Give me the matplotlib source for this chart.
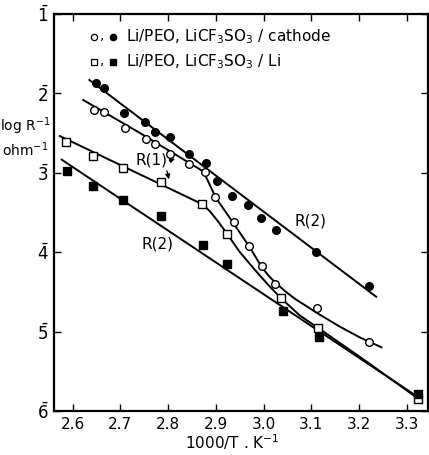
import matplotlib
matplotlib.use("Agg")
import matplotlib.pyplot as plt
import numpy as np

plt.rcParams['font.family'] = ['DejaVu Sans']
plt.rcParams['mathtext.fontset'] = 'dejavusans'

# ---- data (x = 1000/T, y = log R^-1) ----
cath_filled_x = [2.648, 2.666, 2.708, 2.752, 2.772, 2.804, 2.843, 2.880, 2.902, 2.934, 2.968, 2.995, 3.026, 3.110, 3.221]
cath_filled_y = [-1.873, -1.936, -2.251, -2.356, -2.490, -2.549, -2.763, -2.877, -3.100, -3.288, -3.402, -3.566, -3.721, -3.994, -4.426]

cath_open_x = [2.645, 2.666, 2.709, 2.753, 2.773, 2.804, 2.843, 2.877, 2.899, 2.937, 2.969, 2.996, 3.025, 3.111, 3.221]
cath_open_y = [-2.209, -2.238, -2.436, -2.580, -2.631, -2.757, -2.892, -2.992, -3.309, -3.616, -3.925, -4.178, -4.401, -4.703, -5.127]

li_open_x = [2.586, 2.643, 2.706, 2.784, 2.870, 2.923, 3.036, 3.114, 3.323]
li_open_y = [-2.616, -2.785, -2.943, -3.120, -3.393, -3.767, -4.581, -4.958, -5.849]

li_filled_x = [2.587, 2.642, 2.706, 2.786, 2.874, 2.924, 3.040, 3.116, 3.323]
li_filled_y = [-2.974, -3.170, -3.343, -3.540, -3.909, -4.152, -4.737, -5.072, -5.786]

# drawn guide curves
cath_filled_line_x = [2.635, 3.236]
cath_filled_line_y = [-1.831, -4.561]

cath_open_curve_x = [2.622, 2.741, 2.874, 2.900, 2.936, 2.971, 2.996, 3.011, 3.028, 3.047, 3.068, 3.091, 3.112, 3.160, 3.202, 3.247]
cath_open_curve_y = [-2.083, -2.499, -2.984, -3.314, -3.628, -3.938, -4.186, -4.300, -4.400, -4.501, -4.596, -4.684, -4.766, -4.938, -5.074, -5.198]

li_open_curve_x = [2.573, 2.872, 2.887, 2.904, 2.923, 2.950, 2.982, 3.009, 3.036, 3.076, 3.116, 3.160, 3.223, 3.325]
li_open_curve_y = [-2.537, -3.397, -3.481, -3.607, -3.764, -3.997, -4.224, -4.407, -4.577, -4.797, -4.961, -5.144, -5.408, -5.849]

li_filled_line_x = [2.577, 3.325]
li_filled_line_y = [-2.835, -5.830]

xticks = [2.6, 2.7, 2.8, 2.9, 3.0, 3.1, 3.2, 3.3]
xticklabels = ['2.6', '2.7', '2.8', '2.9', '3.0', '3.1', '3.2', '3.3']
yticks = [-1, -2, -3, -4, -5, -6]
yticklabels = [r'$\bar{1}$', r'$\bar{2}$', r'$\bar{3}$', r'$\bar{4}$', r'$\bar{5}$', r'$\bar{6}$']

fig = plt.figure(figsize=(4.29, 4.55), dpi=100)
ax = fig.add_axes([54/429, 1 - 411/455, 374/429, 397/455])

lw = 1.4
ax.plot(cath_filled_line_x, cath_filled_line_y, color='black', lw=lw)
ax.plot(cath_open_curve_x, cath_open_curve_y, color='black', lw=lw)
ax.plot(li_open_curve_x, li_open_curve_y, color='black', lw=lw)
ax.plot(li_filled_line_x, li_filled_line_y, color='black', lw=lw)

ms = 5.5
ax.plot(cath_filled_x, cath_filled_y, 'o', color='black', ms=ms, ls='none')
ax.plot(cath_open_x, cath_open_y, 'o', mfc='white', mec='black', mew=1.0, ms=ms, ls='none')
ax.plot(li_open_x, li_open_y, 's', mfc='white', mec='black', mew=1.0, ms=ms, ls='none')
ax.plot(li_filled_x, li_filled_y, 's', color='black', ms=ms, ls='none')

# annotations
ax.text(2.766, -2.839, 'R(1)', fontsize=11, ha='center', va='center')
ax.annotate('', xy=(2.820, -2.814), xytext=(2.797, -2.858),
            arrowprops=dict(arrowstyle='-|>', color='black', lw=0.9, mutation_scale=7))
ax.annotate('', xy=(2.803, -3.116), xytext=(2.796, -2.940),
            arrowprops=dict(arrowstyle='-|>', color='black', lw=0.9, mutation_scale=7))
ax.text(3.098, -3.613, 'R(2)', fontsize=11, ha='center', va='center')
ax.text(2.778, -3.903, 'R(2)', fontsize=11, ha='center', va='center')

# legend (manual)
leg_y1 = -1.0 - (37 - 14) / 79.4
leg_y2 = -1.0 - (62 - 14) / 79.4
def px2x(p):
    return 2.6 + (p - 72.7) / 477.6
ax.plot([px2x(94)], [leg_y1], 'o', mfc='white', mec='black', mew=0.9, ms=4.5)
ax.plot([px2x(113)], [leg_y1], 'o', color='black', ms=4.5)
ax.plot([px2x(94)], [leg_y2], 's', mfc='white', mec='black', mew=0.9, ms=4.5)
ax.plot([px2x(113)], [leg_y2], 's', color='black', ms=4.5)
ax.text(px2x(102.5), leg_y1 + 0.02, ',', fontsize=10, ha='center', va='center')
ax.text(px2x(102.5), leg_y2 + 0.02, ',', fontsize=10, ha='center', va='center')
ax.text(px2x(126), leg_y1, r'Li/PEO, LiCF$_3$SO$_3$ / cathode', fontsize=11, ha='left', va='center')
ax.text(px2x(126), leg_y2, r'Li/PEO, LiCF$_3$SO$_3$ / Li', fontsize=11, ha='left', va='center')

ax.set_xlim(2.5608, 3.3446)
ax.set_ylim(-6, -1)
ax.set_xticks(xticks)
ax.set_xticklabels(xticklabels, fontsize=11)
ax.set_yticks(yticks)
ax.set_yticklabels(yticklabels, fontsize=12)
ax.tick_params(direction='in', length=5, width=1.0, top=True, right=True, pad=4)
for s in ax.spines.values():
    s.set_linewidth(1.6)

fig.text(25/429, 1 - 126/455, r'log R$^{-1}$', fontsize=10, ha='center', va='center')
fig.text(25/429, 1 - 150/455, r'ohm$^{-1}$', fontsize=10, ha='center', va='center')
fig.text(232/429, 1 - 442/455, r'1000/T . K$^{-1}$', fontsize=11, ha='center', va='center')

fig.savefig('out.png', dpi=100)
